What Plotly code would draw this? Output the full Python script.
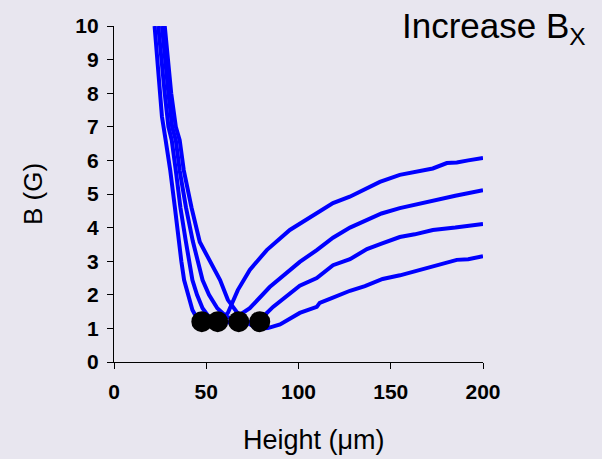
import plotly.graph_objects as go

# ---- data ----
curve_a_x = [22.0, 23.5, 25.0, 26.0, 28.0, 30.5, 33.0, 35.0, 36.5, 38.0, 40.5, 42.5, 45.0, 47.6,
             53.0, 58.0, 61.7, 67.1, 73.6, 82.8, 95.3, 103.0, 109.9, 118.7, 127.8, 134.0, 144.1,
             154.9, 165.0, 172.8, 180.4, 185.8, 192.0, 200.0]
curve_a_y = [10.0, 9.0, 8.0, 7.3, 6.6, 5.7, 4.6, 3.6, 3.0, 2.44, 1.9, 1.55, 1.3, 1.2,
             1.15, 1.25, 1.46, 2.14, 2.74, 3.33, 3.93, 4.2, 4.43, 4.73, 4.92, 5.08, 5.36,
             5.57, 5.68, 5.76, 5.92, 5.94, 6.0, 6.07]

curve_b_x = [24.0, 25.5, 27.5, 29.5, 31.3, 33.5, 36.0, 38.9, 40.8, 42.5, 45.0, 48.0, 52.0, 56.2,
             62.0, 68.3, 73.6, 84.4, 96.9, 100.7, 109.9, 118.7, 127.9, 137.1, 145.0, 154.9,
             163.0, 172.8, 185.0, 200.0]
curve_b_y = [10.0, 9.0, 8.0, 7.0, 6.6, 5.7, 4.6, 3.6, 3.0, 2.44, 2.0, 1.6, 1.3, 1.2,
             1.18, 1.40, 1.60, 2.23, 2.83, 2.98, 3.33, 3.70, 4.0, 4.24, 4.42, 4.58,
             4.68, 4.82, 4.95, 5.11]

curve_c_x = [26.0, 27.5, 29.5, 31.5, 33.5, 35.6, 39.0, 42.7, 45.5, 48.0, 51.5, 56.0, 61.0, 67.6,
             75.0, 80.6, 86.2, 92.5, 100.7, 109.9, 118.7, 127.9, 137.1, 145.0, 154.9,
             163.0, 172.8, 185.0, 200.0]
curve_c_y = [10.0, 9.0, 8.0, 7.0, 6.6, 5.7, 4.6, 3.6, 3.0, 2.44, 2.0, 1.6, 1.35, 1.2,
             1.2, 1.34, 1.64, 1.90, 2.27, 2.50, 2.88, 3.06, 3.36, 3.52, 3.72,
             3.8, 3.93, 4.0, 4.11]

curve_d_x = [27.5, 29.0, 31.0, 33.5, 35.6, 37.8, 42.0, 46.5, 52.0, 57.5, 61.7, 67.0, 72.5,
             76.0, 79.0, 83.4, 90.0, 96.9, 100.7, 109.9, 111.5, 118.0, 127.9, 136.0, 145.6,
             155.0, 164.0, 175.0, 185.8, 192.0, 200.0]
curve_d_y = [10.0, 9.0, 8.0, 7.0, 6.6, 5.71, 4.6, 3.57, 3.0, 2.44, 1.85, 1.45, 1.16,
             1.05, 1.0, 1.01, 1.12, 1.34, 1.46, 1.64, 1.76, 1.9, 2.12, 2.26, 2.47,
             2.58, 2.71, 2.86, 3.04, 3.06, 3.15]

minima_x = [47.6, 56.2, 67.6, 79.0]
minima_y = [1.2, 1.2, 1.2, 1.2]

x_ticks = [0, 50, 100, 150, 200]
y_ticks = [0, 1, 2, 3, 4, 5, 6, 7, 8, 9, 10]

FONT = "Arial, Liberation Sans, sans-serif"
BLUE = "#0000FF"

fig = go.Figure()
for xs, ys in [(curve_a_x, curve_a_y), (curve_b_x, curve_b_y),
               (curve_c_x, curve_c_y), (curve_d_x, curve_d_y)]:
    fig.add_trace(go.Scatter(x=xs, y=ys, mode="lines",
                             line=dict(color=BLUE, width=4), showlegend=False,
                             cliponaxis=True))
fig.add_trace(go.Scatter(x=minima_x, y=minima_y, mode="markers",
                         marker=dict(color="black", size=21), showlegend=False,
                         cliponaxis=False))

axis_common = dict(showgrid=False, zeroline=False, showline=True, linecolor="black",
                   linewidth=1.3, ticks="outside", ticklen=6, tickwidth=1.3,
                   tickcolor="black",
                   tickfont=dict(family=FONT, size=21, color="black", weight="bold"))

fig.update_xaxes(range=[0, 200], tickvals=x_ticks, ticklabelstandoff=5, **axis_common)
fig.update_yaxes(range=[0, 10], tickvals=y_ticks, ticklabelstandoff=4, **axis_common)

fig.update_layout(
    width=602, height=459,
    margin=dict(l=114, r=119, t=26, b=97),
    paper_bgcolor="#E8E6EF", plot_bgcolor="rgba(0,0,0,0)",
    font=dict(family=FONT, color="black"),
    annotations=[
        dict(text="B (G)", textangle=-90, xref="paper", yref="paper",
             x=(33 - 114) / 369, y=0.5, xanchor="center", yanchor="middle",
             showarrow=False, font=dict(size=26, family=FONT, color="black")),
        dict(text="Height (μm)", xref="paper", yref="paper",
             x=(314 - 114) / 369, y=(362 - 440) / 336, xanchor="center", yanchor="middle",
             showarrow=False, font=dict(size=27, family=FONT, color="black")),
        dict(text="Increase B<sub>X</sub>", xref="paper", yref="paper",
             x=(588 - 114) / 369, y=(362 - 4) / 336, xanchor="right", yanchor="top",
             showarrow=False, font=dict(size=35, family=FONT, color="black")),
    ],
)

fig.write_html("out.html")
